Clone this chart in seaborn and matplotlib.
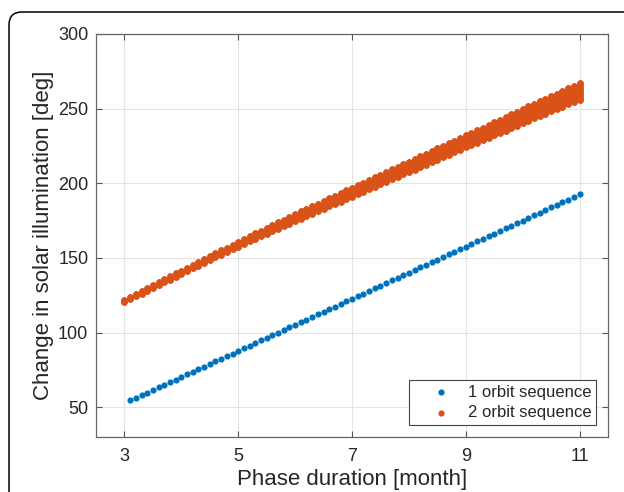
import numpy as np
import pandas as pd
import matplotlib
matplotlib.use("Agg")
import matplotlib.pyplot as plt
import seaborn as sns
from matplotlib.patches import PathPatch
from matplotlib.path import Path
from matplotlib.transforms import IdentityTransform

# phase duration [month] for the 2 orbit sequence (blue one starts a step later)
orange_months = [3.0, 3.1, 3.2, 3.3, 3.4, 3.5, 3.6, 3.7, 3.8, 3.9,
                 4.0, 4.1, 4.2, 4.3, 4.4, 4.5, 4.6, 4.7, 4.8, 4.9,
                 5.0, 5.1, 5.2, 5.3, 5.4, 5.5, 5.6, 5.7, 5.8, 5.9,
                 6.0, 6.1, 6.2, 6.3, 6.4, 6.5, 6.6, 6.7, 6.8, 6.9,
                 7.0, 7.1, 7.2, 7.3, 7.4, 7.5, 7.6, 7.7, 7.8, 7.9,
                 8.0, 8.1, 8.2, 8.3, 8.4, 8.5, 8.6, 8.7, 8.8, 8.9,
                 9.0, 9.1, 9.2, 9.3, 9.4, 9.5, 9.6, 9.7, 9.8, 9.9,
                 10.0, 10.1, 10.2, 10.3, 10.4, 10.5, 10.6, 10.7, 10.8, 10.9,
                 11.0]
blue_months = orange_months[1:]

# 1 orbit sequence: change in solar illumination [deg]
one_orbit = [54.5, 56.2, 58.0, 59.7, 61.5, 63.2, 65.0, 66.7, 68.5, 70.2,
             72.0, 73.7, 75.5, 77.2, 79.0, 80.7, 82.5, 84.2, 85.9, 87.7,
             89.4, 91.2, 92.9, 94.7, 96.4, 98.2, 99.9, 101.7, 103.4, 105.2,
             106.9, 108.7, 110.4, 112.2, 113.9, 115.6, 117.4, 119.1, 120.9, 122.6,
             124.4, 126.1, 127.9, 129.6, 131.4, 133.1, 134.9, 136.6, 138.4, 140.1,
             141.9, 143.6, 145.3, 147.1, 148.8, 150.6, 152.3, 154.1, 155.8, 157.6,
             159.3, 161.1, 162.8, 164.6, 166.3, 168.1, 169.8, 171.6, 173.3, 175.0,
             176.8, 178.5, 180.3, 182.0, 183.8, 185.5, 187.3, 189.0, 190.8, 192.5]

# 2 orbit sequence: lowest and highest value at each duration
two_orbit_low = [120.5, 122.4, 124.3, 126.1, 128.0, 129.9, 131.8, 133.7, 135.5, 137.4,
                 139.3, 141.1, 143.0, 144.8, 146.6, 148.5, 150.3, 152.1, 153.9, 155.8,
                 157.6, 159.3, 161.0, 162.7, 164.4, 166.2, 167.9, 169.6, 171.3, 173.0,
                 174.7, 176.3, 178.0, 179.6, 181.2, 182.9, 184.5, 186.1, 187.7, 189.4,
                 191.0, 192.7, 194.3, 196.0, 197.6, 199.3, 200.9, 202.6, 204.2, 205.9,
                 207.5, 209.2, 210.8, 212.5, 214.1, 215.8, 217.4, 219.1, 220.7, 222.4,
                 224.0, 225.6, 227.2, 228.9, 230.5, 232.1, 233.7, 235.3, 237.0, 238.6,
                 240.2, 241.8, 243.4, 244.9, 246.5, 248.1, 249.7, 251.3, 252.8, 254.4,
                 256.0]
two_orbit_high = [122.0, 124.0, 125.9, 127.9, 129.8, 131.8, 133.7, 135.7, 137.6, 139.6,
                  141.5, 143.4, 145.4, 147.3, 149.2, 151.2, 153.1, 155.0, 156.9, 158.9,
                  160.8, 162.7, 164.5, 166.4, 168.2, 170.1, 171.9, 173.8, 175.6, 177.5,
                  179.3, 181.1, 182.8, 184.6, 186.4, 188.2, 189.9, 191.7, 193.5, 195.2,
                  197.0, 198.8, 200.5, 202.3, 204.0, 205.8, 207.5, 209.3, 211.0, 212.8,
                  214.5, 216.3, 218.0, 219.8, 221.5, 223.3, 225.0, 226.8, 228.5, 230.3,
                  232.0, 233.8, 235.6, 237.3, 239.1, 240.9, 242.7, 244.5, 246.2, 248.0,
                  249.8, 251.5, 253.2, 255.0, 256.7, 258.4, 260.1, 261.8, 263.6, 265.3,
                  267.0]

x_ticks = [3, 5, 7, 9, 11]
y_ticks = [50, 100, 150, 200, 250, 300]

BLUE = "#0072BD"
ORANGE = "#D95319"
DOT = 20  # marker area, pt^2

sns.set_style("ticks")
plt.rcParams["font.family"] = ["Liberation Sans", "DejaVu Sans"]

fig = plt.figure(figsize=(6.24, 4.92), dpi=100)
ax = fig.add_axes([96 / 624, 55 / 492, 512 / 624, 403 / 492])

blue = pd.DataFrame({"month": blue_months, "change": one_orbit})
sns.scatterplot(data=blue, x="month", y="change", color=BLUE, s=DOT,
                linewidth=0, label="1 orbit sequence", ax=ax, zorder=3)

# the spread of the 2 orbit points at each duration
ax.vlines(orange_months, two_orbit_low, two_orbit_high, colors=ORANGE,
          linewidth=4.9, capstyle="round", zorder=3)
orange = pd.DataFrame({"month": orange_months + orange_months,
                       "change": two_orbit_low + two_orbit_high})
sns.scatterplot(data=orange, x="month", y="change", color=ORANGE, s=DOT,
                linewidth=0, label="2 orbit sequence", ax=ax, zorder=3)

ax.set_xlim(2.5, 11.5)
ax.set_ylim(30, 300)
ax.set_xticks(x_ticks)
ax.set_yticks(y_ticks)
ax.grid(True, color="#e4e4e4", linewidth=0.8)
ax.set_axisbelow(True)
ax.tick_params(direction="in", top=True, right=True, length=4, width=0.8,
               color="#555555", labelcolor="#262626", labelsize=13)
ax.tick_params(axis="x", pad=8)
ax.tick_params(axis="y", pad=5.5)
for sp in ax.spines.values():
    sp.set_color("#666666")
    sp.set_linewidth(0.9)

ax.set_xlabel("Phase duration [month]", fontsize=16, color="#262626", labelpad=3)
ax.set_ylabel("Change in solar illumination [deg]", fontsize=16, color="#262626", labelpad=3)

leg = ax.legend(loc="lower right", fontsize=12, frameon=True, fancybox=False,
                framealpha=1, edgecolor="#444444", borderaxespad=0.7,
                labelspacing=0.35, handlelength=3.2, handletextpad=0.0,
                borderpad=0.3)
leg.get_frame().set_linewidth(0.8)

# panel border: left and top edge with a rounded corner, open to the right/bottom
verts = [(9, -5), (9, 467), (9, 480), (22, 480), (640, 480)]
codes = [Path.MOVETO, Path.LINETO, Path.CURVE3, Path.CURVE3, Path.LINETO]
frame = PathPatch(Path(verts, codes), transform=IdentityTransform(), fill=False,
                  edgecolor="black", linewidth=1.1)
fig.add_artist(frame)

fig.savefig("out.png", dpi=100)
